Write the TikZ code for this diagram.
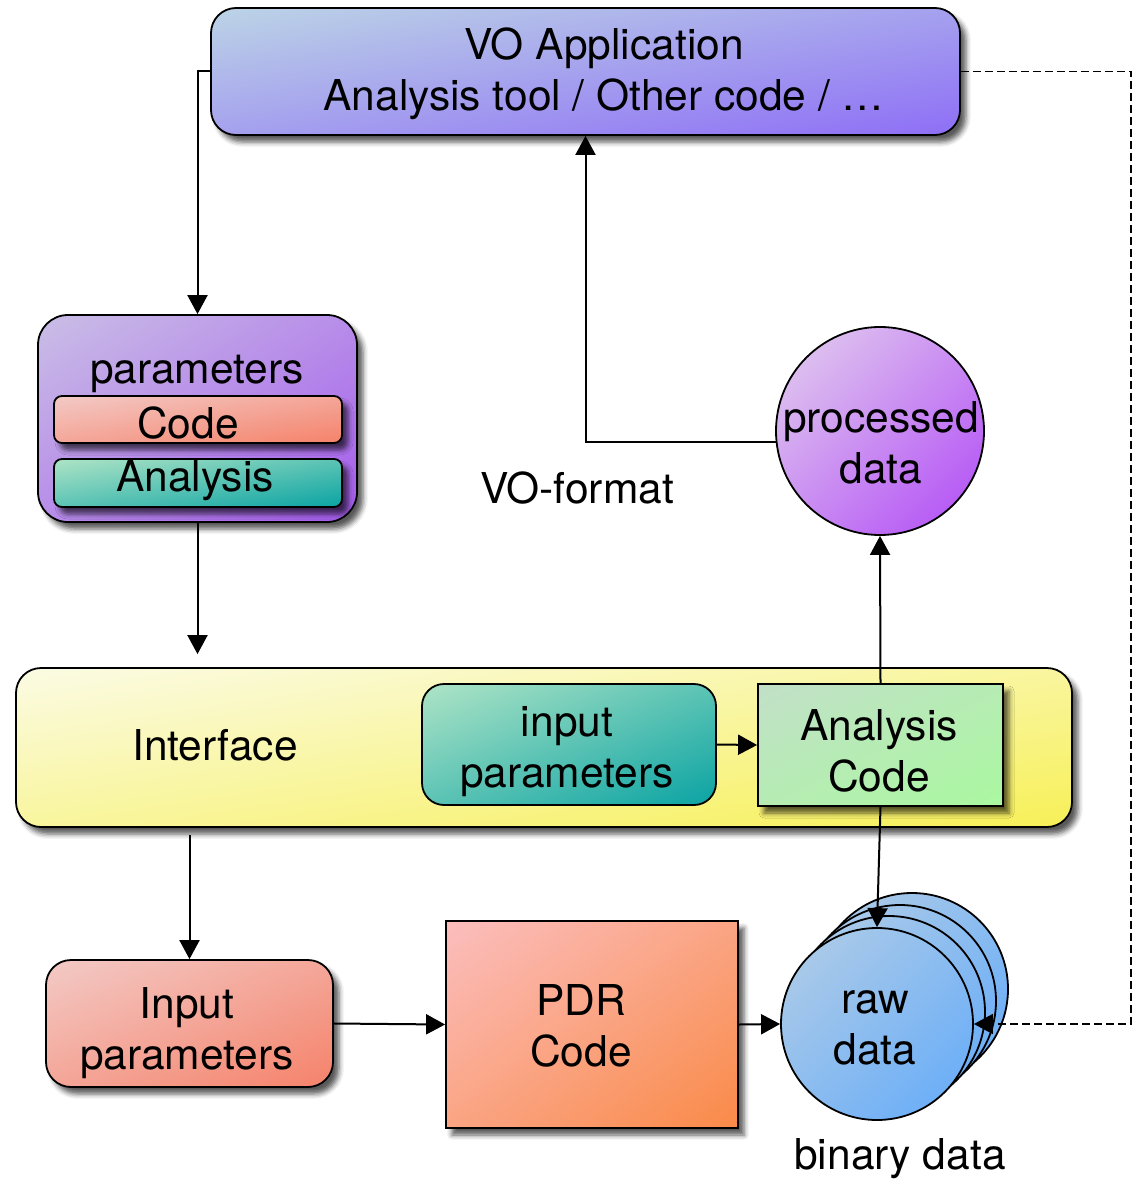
\documentclass[tikz,border=0pt]{standalone}
\usepackage{fontspec}
\setmainfont{TeX Gyre Heros}
\usetikzlibrary{arrows.meta,shadows.blur,shadings,calc}

% fill gradients: light (upper left) to saturated (lower right)
\definecolor{voA}{HTML}{BCD4E6}\definecolor{voB}{HTML}{8E6EF6}
\definecolor{parA}{HTML}{CABEE6}\definecolor{parB}{HTML}{A45BEC}
\definecolor{salA}{HTML}{F3CAC6}\definecolor{salB}{HTML}{F5826A}
\definecolor{tealA}{HTML}{AEE4C6}\definecolor{tealB}{HTML}{0AA3A3}
\definecolor{yelA}{HTML}{FBFBE4}\definecolor{yelB}{HTML}{F7F058}
\definecolor{grnA}{HTML}{C2E0C8}\definecolor{grnB}{HTML}{AAF8A0}
\definecolor{prcA}{HTML}{E4D2EE}\definecolor{prcB}{HTML}{B048F6}
\definecolor{pdrA}{HTML}{FBBEBE}\definecolor{pdrB}{HTML}{FA8A48}
\definecolor{rawA}{HTML}{B4CEE6}\definecolor{rawB}{HTML}{62AAFA}

\tikzset{
  lbl/.style={font=\fontsize{42.5}{51}\selectfont, align=center, inner sep=0pt},
  diag/.style 2 args={upper left=#1, lower right=#2,
      upper right=#1!50!#2, lower left=#1!50!#2},
  shad/.style={blur shadow={shadow xshift=6pt, shadow yshift=-7pt,
      shadow blur radius=5pt, shadow opacity=65}},
  box/.style={draw, line width=1.8pt, inner sep=0pt},
  disc/.style={box, circle},
  arr/.style={line width=2pt, -{Triangle[length=19pt,width=20pt]}},
  dasharr/.style={arr, line width=1.4pt, dash pattern=on 8pt off 4pt},
}

\begin{document}
\begin{tikzpicture}[x=1pt,y=-1pt]
\useasboundingbox (0,0) rectangle (1133,1180);

% application on top
\node[box, shad, diag={voA}{voB}, rounded corners=25pt,
      minimum width=749pt, minimum height=127pt] (vo) at (585.5,71.5) {};
\node[lbl] (vot) at (604,73.5) {VO Application\\Analysis tool / Other code / …};

% parameter group
\node[box, shad, diag={parA}{parB}, rounded corners=30pt,
      minimum width=319pt, minimum height=207pt] (param) at (197.5,418.5) {};
\node[lbl, anchor=base] (ptitle) at (197,383) {parameters};
\node[box, shad, diag={salA}{salB}, rounded corners=8pt,
      minimum width=288pt, minimum height=47pt] (pcode) at (198,419.5) {};
\node[lbl] (pcodet) at (188,423.5) {Code};
\node[box, shad, diag={tealA}{tealB}, rounded corners=8pt,
      minimum width=288pt, minimum height=48pt] (pana) at (198,483) {};
\node[lbl] (panat) at (195,481) {Analysis};

% interface band
\node[box, shad, diag={yelA}{yelB}, rounded corners=25pt,
      minimum width=1056pt, minimum height=159pt] (iface) at (544,747.5) {};
\node[lbl] (ilabel) at (215,745) {Interface};
\node[box, diag={tealA}{tealB}, rounded corners=22pt,
      minimum width=294pt, minimum height=121pt] (inpar) at (569,744.5) {};
\node[lbl] (inpart) at (567,752) {input\\parameters};
\node[box, shad, diag={grnA}{grnB},
      minimum width=245pt, minimum height=122pt] (acode) at (880.5,745) {};
\node[lbl] (acodet) at (879,751) {Analysis\\Code};

% processed data
\node[disc, diag={prcA}{prcB}, minimum size=208pt] (proc) at (880,431) {};
\node[lbl] (proct) at (881,443) {processed\\data};
\node[lbl] (vofmt) at (577,488) {VO-format};

% PDR chain
\node[box, shad, diag={salA}{salB}, rounded corners=25pt,
      minimum width=287pt, minimum height=127pt] (inp) at (189.5,1023.5) {};
\node[lbl] (inpt) at (187,1033) {Input\\parameters};
\node[box, shad, diag={pdrA}{pdrB},
      minimum width=292pt, minimum height=207pt] (pdr) at (592,1024.5) {};
\node[lbl] (pdrt) at (581,1026) {PDR\\Code};

% stack of raw data files
\node[disc, diag={rawA}{rawB}, minimum size=192pt] (raw3) at (912,989) {};
\node[disc, diag={rawA}{rawB}, minimum size=192pt] (raw2) at (900,1001) {};
\node[disc, diag={rawA}{rawB}, minimum size=192pt] (raw1) at (889,1012) {};
\node[disc, diag={rawA}{rawB}, minimum size=192pt] (raw) at (877,1024) {};
\node[lbl] (rawt) at (875,1028) {raw\\data};
\node[lbl] (binary) at (900,1159) {binary data};

% connectors
\draw[arr] (vo.west) -| (param.north);
\draw[arr, shorten >=13pt] (param.south) -- (param.south |- iface.north);
\draw[arr] (inpar.east) -- (acode.west);
\draw[arr] (acode.north) -- (proc.south);
\draw[arr] (proc.186) -| (vo.south);
\draw[arr, shorten <=7pt] (iface.south -| inp.north) -- (inp.north);
\draw[arr] (inp.east) -- (pdr.west);
\draw[arr] (pdr.east) -- (raw.west);
\draw[arr] (acode.south) -- (raw.north);
\coordinate (dcorner) at (1131,71.5);
\draw[dasharr] (vo.east) -- (dcorner) |- (raw.east);
\end{tikzpicture}
\end{document}
